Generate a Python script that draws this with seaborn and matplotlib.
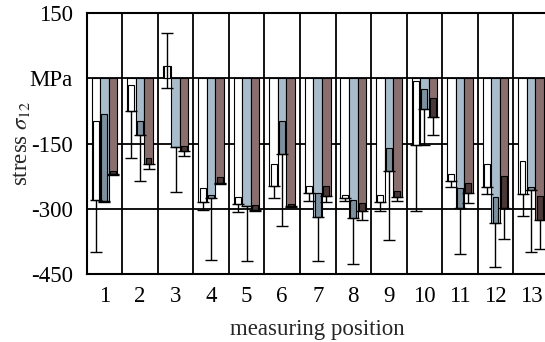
import matplotlib
matplotlib.use("Agg")
import numpy as np
import pandas as pd
import matplotlib.pyplot as plt
import seaborn as sns

# ---- data ----
positions = [str(i) for i in range(1, 14)]
series = ["s1", "s2", "s3"]

# bar end values (MPa)
val_s1 = [-280, -75, 29, -285, -289, -247, -263, -275, -284, -152, -235, -250, -266]
val_s2 = [-283, -130, -157, -276, -293, -173, -318, -322, -212, -71, -299, -333, -256]
val_s3 = [-221, -198, -166, -240, -303, -294, -271, -306, -273, -89, -264, -299, -326]

# start of the darker box inside each bar (MPa)
box_s1 = [-99, -16, 0, -252, -272, -198, -247, -268, -268, -5, -219, -196, -190]
box_s2 = [-81, -97, -157, -268, -293, -99, -263, -279, -159, -25, -253, -274, -250]
box_s3 = [-213, -183, -156, -226, -292, -289, -247, -287, -259, -44, -240, -225, -270]

# lower whisker ends (MPa)
low_s1 = [-400, -182, -23, -303, -307, -275, -283, -283, -304, -304, -250, -265, -317]
low_s2 = [-285, -237, -261, -418, -420, -340, -420, -428, -371, -152, -405, -434, -400]
low_s3 = [-223, -209, -178, -242, -305, -295, -284, -326, -283, -130, -287, -370, -393]

# upper whisker ends (MPa)
high_s1 = [-280, -75, 105, -285, -289, -247, -263, -275, -284, -152, -235, -250, -266]
high_s2 = val_s2
high_s3 = val_s3

ytick_vals = [150, 0, -150, -300, -450]
ytick_labels = ["150", "MPa", "-150", "-300", "-450"]

bar_colors = ["#ffffff", "#a9bccb", "#8a6f6f"]
box_colors = ["#ffffff", "#7d909e", "#4a3838"]

vals = [val_s1, val_s2, val_s3]
boxes = [box_s1, box_s2, box_s3]
lows = [low_s1, low_s2, low_s3]
highs = [high_s1, high_s2, high_s3]

df = pd.DataFrame({
    "position": positions * 3,
    "series": [s for s in series for _ in positions],
    "value": val_s1 + val_s2 + val_s3,
})

sns.set_style("white")
plt.rcParams["font.family"] = ["Liberation Serif", "DejaVu Serif"]
plt.rcParams["mathtext.fontset"] = "stix"

fig = plt.figure(figsize=(5.45, 3.42), dpi=100)
ax = fig.add_axes([0.159, 0.199, 0.848, 0.762])

sns.barplot(data=df, x="position", y="value", hue="series", order=positions,
            hue_order=series, palette=bar_colors, width=0.72, gap=0,
            edgecolor="black", linewidth=0.8, errorbar=None, legend=False,
            saturation=1, ax=ax, zorder=3)

for j, cont in enumerate(ax.containers[:3]):
    xs = np.array([b.get_x() + b.get_width() / 2 for b in cont])
    w = cont[0].get_width()
    v = np.array(vals[j], dtype=float)
    b = np.array(boxes[j], dtype=float)
    lo = np.array(lows[j], dtype=float)
    hi = np.array(highs[j], dtype=float)
    ax.bar(xs, v - b, bottom=b, width=w * 0.7, color=box_colors[j],
           edgecolor="black", linewidth=0.8, zorder=4)
    ax.errorbar(xs, v, yerr=[v - lo, hi - v], fmt="none", ecolor="black",
                elinewidth=1.0, capsize=4.5, capthick=1.0, zorder=5)

ax.set_xlim(-0.5, 12.5)
ax.set_ylim(-450, 150)
ax.set_yticks(ytick_vals)
ax.set_yticklabels(ytick_labels)
ax.set_xticks(range(len(positions)))
ax.set_xticklabels(positions)
ax.set_xticks(np.arange(len(positions)) - 0.5, minor=True)

ax.grid(False)
ax.yaxis.grid(True, which="major", color="black", linewidth=1.3, zorder=0)
ax.xaxis.grid(True, which="minor", color="black", linewidth=1.3, zorder=0)
ax.set_axisbelow(True)

for sp in ax.spines.values():
    sp.set_visible(True)
    sp.set_color("black")
    sp.set_linewidth(1.5)

ax.tick_params(axis="both", which="both", length=0, labelsize=16.5,
               colors="black")
ax.tick_params(axis="y", pad=10)
ax.tick_params(axis="x", pad=9)

ax.set_xlabel("measuring position", fontsize=16.5, labelpad=8)
ax.set_ylabel(r"stress $\sigma_{12}$", fontsize=16.5)
ax.yaxis.set_label_coords(-0.118, 0.5)

fig.savefig("out.png", dpi=100)
